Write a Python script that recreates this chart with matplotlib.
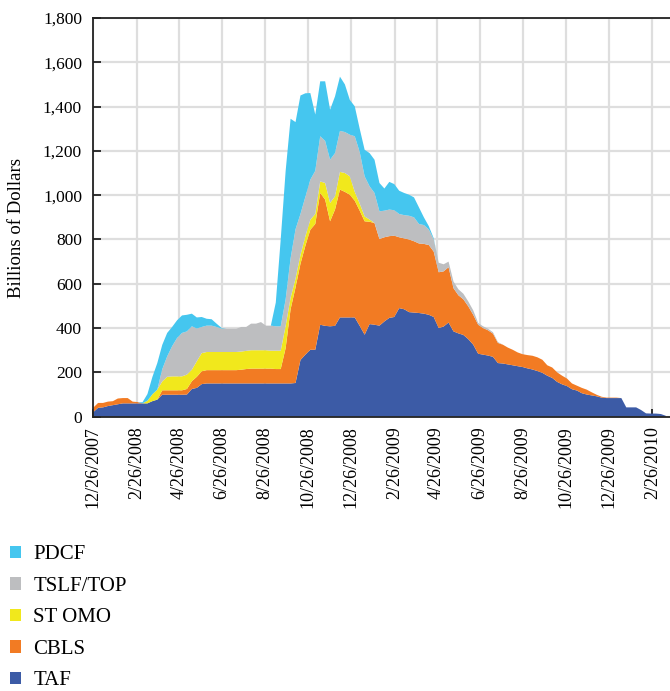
import numpy as np
import pandas as pd
import matplotlib
matplotlib.use("Agg")
import matplotlib.pyplot as plt
from matplotlib.ticker import FuncFormatter

plt.rcParams['font.family'] = ['Liberation Serif', 'DejaVu Serif']

# weekly dates, starting 12/26/2007
dates = pd.date_range("2007-12-26", periods=117, freq="7D")

# billions of dollars
taf = [20, 40, 42, 48, 52, 56, 60, 60, 60, 60,
       60, 60, 70, 77, 99, 99, 99, 99, 99, 100,
       125, 130, 147, 150, 150, 150, 150, 150, 150, 150,
       150, 150, 150, 150, 150, 150, 150, 150, 150, 150,
       150, 152, 256, 280, 302, 302, 415, 410, 408, 410,
       448, 448, 448, 448, 410, 370, 418, 415, 411, 430,
       446, 450, 490, 485, 472, 470, 468, 465, 460, 450,
       400, 407, 425, 385, 376, 369, 350, 325, 284, 280,
       276, 270, 242, 240, 236, 232, 228, 224, 218, 213,
       206, 198, 185, 175, 157, 146, 138, 124, 118, 106,
       100, 96, 92, 86, 84, 84, 84, 84, 42, 42,
       42, 30, 15, 14, 14, 12, 4]
cbls = [20, 22, 20, 20, 18, 26, 24, 24, 8, 6,
        0, 0, 0, 0, 20, 20, 20, 20, 20, 25,
        35, 50, 58, 60, 60, 60, 60, 60, 60, 60,
        62, 65, 67, 67, 67, 67, 67, 65, 65, 160,
        335, 431, 434, 492, 542, 568, 595, 570, 474, 525,
        577, 567, 554, 527, 520, 512, 462, 459, 391, 380,
        369, 367, 320, 320, 328, 322, 314, 315, 315, 295,
        252, 249, 250, 195, 172, 161, 148, 135, 131, 120,
        114, 105, 91, 85, 76, 70, 62, 58, 60, 62,
        62, 59, 47, 47, 43, 39, 34, 26, 22, 24,
        22, 14, 7, 4, 2, 2, 2, 0, 0, 0,
        0, 0, 0, 0, 0, 0, 0]
st_omo = [0, 0, 0, 0, 0, 0, 0, 0, 0, 0,
          0, 12, 31, 45, 40, 61, 63, 63, 63, 65,
          52, 70, 82, 82, 82, 82, 82, 82, 82, 82,
          82, 82, 83, 83, 83, 83, 81, 83, 83, 100,
          52, 40, 40, 43, 45, 45, 52, 75, 83, 60,
          80, 85, 83, 40, 32, 22, 10, 0, 0, 0] + [0] * 57
tslf = [0, 0, 0, 0, 0, 0, 0, 0, 0, 0,
        0, 0, 0, 0, 55, 92, 136, 173, 196, 195,
        196, 148, 118, 119, 119, 113, 106, 105, 105, 105,
        111, 108, 120, 120, 127, 111, 113, 110, 110, 120,
        178, 223, 185, 178, 181, 195, 204, 190, 195, 195,
        185, 185, 188, 251, 233, 181, 150, 136, 125, 120,
        120, 115, 105, 105, 107, 108, 88, 85, 70, 55,
        43, 32, 25, 30, 27, 25, 22, 20, 8, 8,
        7, 6, 4] + [0] * 34
pdcf = [0, 0, 0, 0, 0, 0, 0, 0, 0, 0,
        5, 30, 78, 120, 110, 106, 87, 80, 79, 75,
        57, 50, 45, 31, 29, 15, 3, 0, 0, 0,
        0, 0, 0, 0, 0, 0, 0, 107, 392, 580,
        630, 484, 535, 467, 391, 254, 248, 269, 226, 256,
        245, 215, 157, 135, 105, 120, 150, 150, 128, 100,
        125, 118, 105, 100, 95, 90, 75, 35, 15, 5] + [0] * 47

labels = ["TAF", "CBLS", "ST OMO", "TSLF/TOP", "PDCF"]
colors = ["#3C5BA6", "#F27B23", "#F1E81C", "#BDBEC0", "#45C6EF"]

tick_dates = pd.to_datetime(["2007-12-26", "2008-02-26", "2008-04-26", "2008-06-26",
                             "2008-08-26", "2008-10-26", "2008-12-26", "2009-02-26",
                             "2009-04-26", "2009-06-26", "2009-08-26", "2009-10-26",
                             "2009-12-26", "2010-02-26"])
tick_labels = [f"{d.month}/{d.day}/{d.year}" for d in tick_dates]

fig = plt.figure(figsize=(6.7, 6.91), dpi=100)
ax = fig.add_axes([0.139, 0.397, 0.861, 0.577])

polys = ax.stackplot(dates, taf, cbls, st_omo, tslf, pdcf,
                     colors=colors, labels=labels, linewidth=0, zorder=2)

ax.set_xlim(pd.Timestamp("2007-12-26"), pd.Timestamp("2010-03-23"))
ax.set_ylim(0, 1800)
ax.set_yticks(np.arange(0, 1801, 200))
ax.yaxis.set_major_formatter(FuncFormatter(lambda v, p: f"{int(v):,}"))
ax.set_xticks(tick_dates)
ax.set_xticklabels(tick_labels, rotation=90, fontsize=13)
ax.tick_params(direction='in', length=6, width=1.3, color='#222222')
ax.tick_params(axis='y', labelsize=12.5, pad=8)
ax.tick_params(axis='x', pad=7)
ax.grid(True, color='#DEDEDE', linewidth=1.6, zorder=0)
ax.set_axisbelow(True)
for s in ['left', 'bottom', 'top']:
    ax.spines[s].set_linewidth(1.3)
    ax.spines[s].set_color('#222222')
ax.spines['right'].set_visible(False)
ax.set_ylabel("Billions of Dollars", fontsize=13.5)
ax.yaxis.set_label_coords(-0.118, 0.474)

handles = polys[::-1]
fig.legend(handles, labels[::-1], loc='upper left', bbox_to_anchor=(0.0025, 0.223),
           frameon=False, fontsize=15, handlelength=0.53, handleheight=0.53,
           handletextpad=0.58, labelspacing=0.6, borderaxespad=0)

fig.savefig("out.png", dpi=100)
